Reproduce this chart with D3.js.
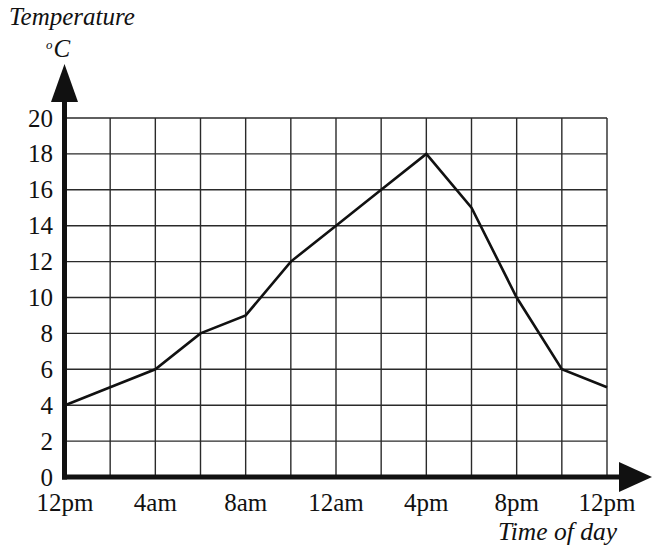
<!DOCTYPE html>
<html lang='en'>
<head>
    <meta charset='UTF-8'>
    <title>Temperature over time of day</title>
    <style>
        body { margin: 0; background: #fff; }
        .grid line { stroke: #2a2a2a; stroke-width: 1.4px; }
        .temp-line { fill: none; stroke: #111; stroke-width: 2.6px; stroke-linejoin: miter; }
        .axis-line { stroke: #111; stroke-width: 5px; }
    </style>
</head>
<body>
    <div id="chart"></div>
    <script src='https://d3js.org/d3.v7.min.js'></script>
    <script>
        // hours since 12pm, temperature reading every 2 hours
        const hours = [0, 2, 4, 6, 8, 10, 12, 14, 16, 18, 20, 22, 24]
        const temps = [4, 5, 6, 8, 9, 12, 14, 16, 18, 15, 10, 6, 5]
        const xTickHours = [0, 4, 8, 12, 16, 20, 24]
        const xTickLabels = ['12pm', '4am', '8am', '12am', '4pm', '8pm', '12pm']
        const yTicks = [0, 2, 4, 6, 8, 10, 12, 14, 16, 18, 20]

        const width = 652
        const height = 551
        const plotLeft = 65, plotRight = 607, plotTop = 118, plotBottom = 477
        const serif = "'Liberation Serif', 'Times New Roman', Times, serif"

        const x = d3.scaleLinear().domain([0, 24]).range([plotLeft, plotRight])
        const y = d3.scaleLinear().domain([0, 20]).range([plotBottom, plotTop])

        const svg = d3.select('#chart').append('svg')
            .attr('width', width)
            .attr('height', height)
            .style('font-family', serif)

        // grid
        const grid = svg.append('g').attr('class', 'grid')
        grid.selectAll('line.v')
            .data(d3.range(0, 25, 2))
            .enter().append('line')
            .attr('class', 'v')
            .attr('x1', d => x(d)).attr('x2', d => x(d))
            .attr('y1', y(20)).attr('y2', y(0))
        grid.selectAll('line.h')
            .data(yTicks)
            .enter().append('line')
            .attr('class', 'h')
            .attr('x1', x(0)).attr('x2', x(24))
            .attr('y1', d => y(d)).attr('y2', d => y(d))

        // data line
        const line = d3.line()
            .x((d, i) => x(hours[i]))
            .y(d => y(d))
        svg.append('path')
            .datum(temps)
            .attr('class', 'temp-line')
            .attr('d', line)

        // axes with arrows
        svg.append('line').attr('class', 'axis-line')
            .attr('x1', x(0) - 0.5).attr('x2', x(0) - 0.5)
            .attr('y1', y(0) + 2.5).attr('y2', 96)
        svg.append('path')
            .attr('d', `M${x(0) - 0.5},64 L${x(0) - 14},102 L${x(0) + 13},102 Z`)
            .attr('fill', '#111')

        svg.append('line').attr('class', 'axis-line')
            .attr('x1', x(0) - 3).attr('x2', 624)
            .attr('y1', y(0)).attr('y2', y(0))
        svg.append('path')
            .attr('d', `M652,${y(0)} L619,${y(0) - 15} L619,${y(0) + 15} Z`)
            .attr('fill', '#111')

        // tick labels
        svg.append('g').selectAll('text')
            .data(yTicks)
            .enter().append('text')
            .attr('x', 53)
            .attr('y', d => y(d))
            .attr('dy', '0.34em')
            .attr('text-anchor', 'end')
            .attr('font-size', 25)
            .attr('fill', '#111')
            .text(d => d)

        svg.append('g').selectAll('text')
            .data(xTickHours)
            .enter().append('text')
            .attr('x', d => x(d))
            .attr('y', 511)
            .attr('text-anchor', 'middle')
            .attr('font-size', 25)
            .attr('fill', '#111')
            .text((d, i) => xTickLabels[i])

        // axis titles
        svg.append('text')
            .attr('x', 9).attr('y', 25)
            .attr('font-size', 25)
            .attr('font-style', 'italic')
            .attr('fill', '#111')
            .text('Temperature')
        const unit = svg.append('text')
            .attr('x', 46).attr('y', 57)
            .attr('font-size', 25)
            .attr('font-style', 'italic')
            .attr('fill', '#111')
        unit.append('tspan').attr('font-size', 13).attr('dy', -8).text('o')
        unit.append('tspan').attr('dy', 8).attr('dx', 1).text('C')

        svg.append('text')
            .attr('x', 617).attr('y', 540)
            .attr('text-anchor', 'end')
            .attr('font-size', 25.5)
            .attr('font-style', 'italic')
            .attr('fill', '#111')
            .text('Time of day')
    </script>
</body>
</html>
